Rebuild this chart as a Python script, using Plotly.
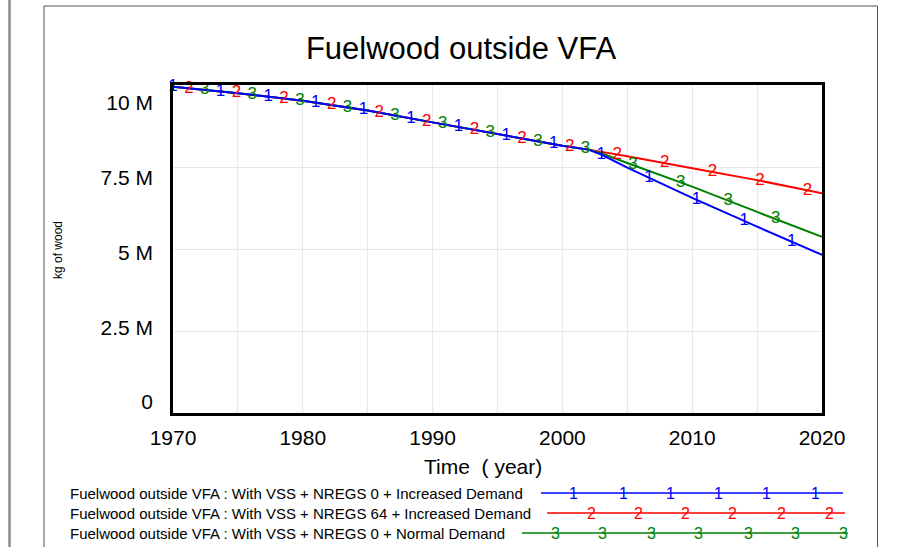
import numpy as np
import plotly.graph_objects as go

# ---------------- data ----------------
years = [1970, 1975, 1980, 1985, 1990, 1995, 2000, 2002, 2003, 2005, 2010, 2015, 2020]
increased_nregs0 = [9.95, 9.75, 9.52, 9.22, 8.86, 8.50, 8.15, 8.03, 7.88, 7.48, 6.56, 5.68, 4.82]
increased_nregs64 = [9.95, 9.75, 9.52, 9.22, 8.86, 8.50, 8.15, 8.03, 7.97, 7.83, 7.46, 7.10, 6.70]
normal_nregs0 = [9.95, 9.75, 9.52, 9.22, 8.86, 8.50, 8.15, 8.03, 7.92, 7.62, 6.90, 6.13, 5.37]

series_names = [
    "Fuelwood outside VFA : With VSS + NREGS 0 + Increased Demand",
    "Fuelwood outside VFA : With VSS + NREGS 64 + Increased Demand",
    "Fuelwood outside VFA : With VSS + NREGS 0 + Normal Demand",
]
series_labels = ["1", "2", "3"]
series_colors = ["#0000FF", "#FF0000", "#008000"]

y_tickvals = [0, 2.5e6, 5e6, 7.5e6, 10e6]
y_ticktext = ["0", "2.5 M", "5 M", "7.5 M", "10 M"]
x_tickvals = list(range(1970, 2021, 5))
x_ticktext = [str(v) if v % 10 == 0 else "" for v in x_tickvals]

# ---------------- geometry ----------------
W, H = 899, 547
L, R, T, B = 173, 822, 85, 413
def px(x):
    return (x - L) / (R - L)
def py(y):
    return (B - y) / (B - T)

FONT = "Liberation Sans, Arial, sans-serif"

values = [increased_nregs0, increased_nregs64, normal_nregs0]
yrs = np.array(years, dtype=float)

fig = go.Figure()

# lines: draw red, green, then blue on top
for i in [1, 2, 0]:
    fig.add_trace(go.Scatter(
        x=years, y=[v * 1e6 for v in values[i]], mode="lines",
        line=dict(color=series_colors[i], width=2),
        name=series_names[i], showlegend=False, hoverinfo="skip"))

# numbered markers along each line (Vensim style)
step = 11.0 / 3.0
for i in range(3):
    mx = np.arange(1970 + i * step / 3.0, 2020.01, step)
    my = np.interp(mx, yrs, np.array(values[i]) * 1e6)
    fig.add_trace(go.Scatter(
        x=mx, y=my, mode="text", text=[series_labels[i]] * len(mx),
        textposition="middle center",
        textfont=dict(color=series_colors[i], size=17, family=FONT),
        showlegend=False, hoverinfo="skip", cliponaxis=False))

# empty trace so the label axis (y2) is rendered
fig.add_trace(go.Scatter(x=[], y=[], yaxis="y2", showlegend=False, hoverinfo="skip"))

shapes = []
annotations = []

# outer page decorations
shapes.append(dict(type="line", xref="paper", yref="paper",
                   x0=px(9.5), x1=px(9.5), y0=py(0), y1=py(547),
                   line=dict(color="#8a8a8a", width=2.5)))
for (x0, y0, x1, y1) in [(44, 6, 44, 547), (44, 6, 877.5, 6), (877.5, 6, 877.5, 547)]:
    shapes.append(dict(type="line", xref="paper", yref="paper",
                       x0=px(x0), x1=px(x1), y0=py(y0), y1=py(y1),
                       line=dict(color="#555555", width=1)))

# custom legend
legend_rows = [493, 513, 533]
legend_line = [(541, 843), (547, 845), (522, 848)]
legend_nums = [
    [573, 623, 670, 718, 766, 815],
    [591, 638, 685, 732, 781, 829],
    [555, 602, 651, 698, 748, 795, 844],
]
for i in range(3):
    yy = legend_rows[i]
    annotations.append(dict(xref="paper", yref="paper", x=px(68), y=py(yy),
                            xanchor="left", yanchor="middle", showarrow=False,
                            text=series_names[i],
                            font=dict(size=15, color="black", family=FONT)))
    shapes.append(dict(type="line", xref="paper", yref="paper",
                       x0=px(legend_line[i][0]), x1=px(legend_line[i][1]),
                       y0=py(yy), y1=py(yy),
                       line=dict(color=series_colors[i], width=1.5)))
    for nx in legend_nums[i]:
        annotations.append(dict(xref="paper", yref="paper", x=px(nx), y=py(yy),
                                xanchor="center", yanchor="middle", showarrow=False,
                                text=series_labels[i],
                                font=dict(size=16, color=series_colors[i], family=FONT)))

# axis titles
annotations.append(dict(xref="paper", yref="paper", x=px(483), y=py(466),
                        xanchor="center", yanchor="middle", showarrow=False,
                        text="Time  ( year)", font=dict(size=21, color="black", family=FONT)))
annotations.append(dict(xref="paper", yref="paper", x=px(58), y=py(250),
                        xanchor="center", yanchor="middle", showarrow=False, textangle=-90,
                        text="kg of wood", font=dict(size=12, color="black", family=FONT)))

# Vensim spreads its value labels evenly between slightly inset top/bottom positions
lab_top, lab_bot = 103, 402
per_px = 10e6 / (lab_bot - lab_top)
lab_range = [-(B - lab_bot) * per_px, 10e6 + (lab_top - T) * per_px]

fig.update_layout(
    width=W, height=H,
    margin=dict(l=L, r=W - R, t=T, b=H - B, pad=0),
    paper_bgcolor="white", plot_bgcolor="white",
    title=dict(text="Fuelwood outside VFA", x=461 / W, xref="container", xanchor="center",
               y=1 - 48 / H, yref="container", yanchor="middle",
               font=dict(size=31, color="black", family=FONT)),
    shapes=shapes, annotations=annotations,
    showlegend=False,
    xaxis=dict(range=[1970, 2020], tickvals=x_tickvals, ticktext=x_ticktext,
               showgrid=True, gridcolor="#e8e8e8", gridwidth=1,
               showline=True, linecolor="black", linewidth=3, mirror=True,
               ticks="", ticklabelstandoff=4,
               tickfont=dict(size=21, color="black", family=FONT), zeroline=False),
    yaxis=dict(range=[0, 10e6], tickvals=y_tickvals, showticklabels=False,
               showgrid=True, gridcolor="#e8e8e8", gridwidth=1,
               showline=True, linecolor="black", linewidth=3, mirror=True,
               ticks="", zeroline=False),
    yaxis2=dict(overlaying="y", side="left", range=lab_range,
                tickvals=y_tickvals, ticktext=y_ticktext,
                showgrid=False, showline=False, zeroline=False, ticks="",
                ticklabelstandoff=19,
                tickfont=dict(size=21, color="black", family=FONT)),
)

fig.write_html("out.html", config={"displayModeBar": False},
               post_script="document.body.style.margin='0';document.body.style.overflow='hidden';")
